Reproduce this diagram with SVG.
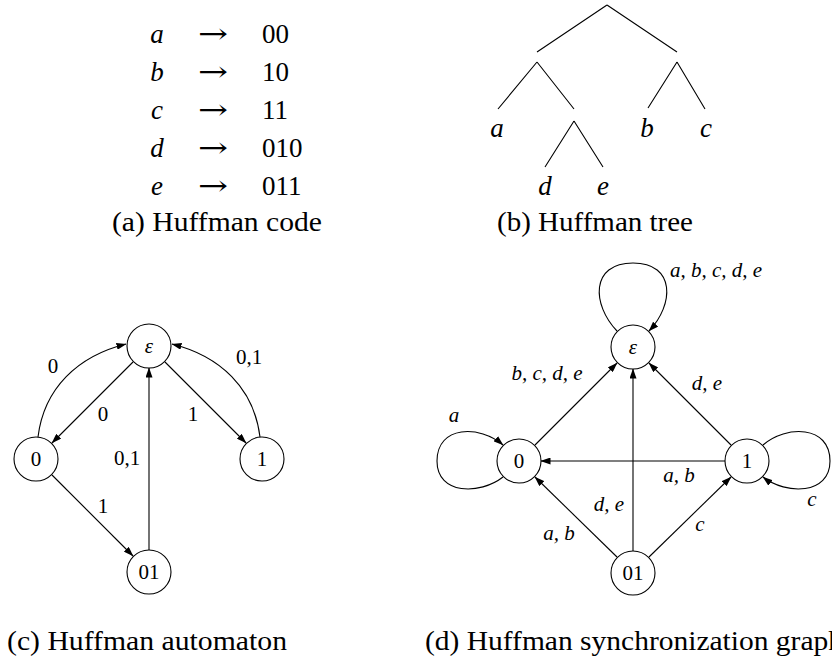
<svg xmlns="http://www.w3.org/2000/svg" width="832" height="659" viewBox="0 0 832 659">
<style>
text{font-family:"Liberation Serif","DejaVu Serif",serif;fill:#000}
.m{font-style:italic}
.tb{font-size:27px}
.cap{font-size:27px}
.lb{font-size:21px}
.nl{font-size:21px;text-anchor:middle}
.ml{font-size:21px;font-style:italic}
.ar{font-size:27px;font-family:"DejaVu Serif","Liberation Serif",serif}
.e{fill:none;stroke:#000;stroke-width:1.1}
.a{marker-end:url(#arr)}
circle{fill:#fff;stroke:#000;stroke-width:1.1}
</style>
<defs>
<marker id="arr" markerUnits="userSpaceOnUse" markerWidth="10" markerHeight="7" refX="9.5" refY="3.5" orient="auto">
<path d="M0,0 L10,3.5 L0,7 z" fill="#000"/>
</marker>
</defs>

<!-- (a) Huffman code -->
<g id="code">
<text class="tb m" x="157" y="43" text-anchor="middle">a</text>
<text class="ar" x="198" y="43" textLength="30" lengthAdjust="spacingAndGlyphs">→</text>
<text class="tb" x="262" y="43">00</text>
<text class="tb m" x="157" y="81" text-anchor="middle">b</text>
<text class="ar" x="198" y="81" textLength="30" lengthAdjust="spacingAndGlyphs">→</text>
<text class="tb" x="262" y="81">10</text>
<text class="tb m" x="157" y="119" text-anchor="middle">c</text>
<text class="ar" x="198" y="119" textLength="30" lengthAdjust="spacingAndGlyphs">→</text>
<text class="tb" x="262" y="119">11</text>
<text class="tb m" x="157" y="157" text-anchor="middle">d</text>
<text class="ar" x="198" y="157" textLength="30" lengthAdjust="spacingAndGlyphs">→</text>
<text class="tb" x="262" y="157">010</text>
<text class="tb m" x="157" y="195" text-anchor="middle">e</text>
<text class="ar" x="198" y="195" textLength="30" lengthAdjust="spacingAndGlyphs">→</text>
<text class="tb" x="262" y="195">011</text>
<text class="cap" x="112" y="231" textLength="210" lengthAdjust="spacingAndGlyphs">(a) Huffman code</text>
</g>

<!-- (b) Huffman tree -->
<g id="tree">
<g class="e">
<path d="M607,5 L537,52 M607,5 L677,52"/>
<path d="M537,62 L498,109 M537,62 L574,109"/>
<path d="M677,62 L648,108 M677,62 L705,109"/>
<path d="M574,121 L545,167 M574,121 L603,167"/>
</g>
<text class="tb m" x="497" y="137" text-anchor="middle">a</text>
<text class="tb m" x="647" y="137" text-anchor="middle">b</text>
<text class="tb m" x="706" y="137" text-anchor="middle">c</text>
<text class="tb m" x="545" y="195" text-anchor="middle">d</text>
<text class="tb m" x="603" y="195" text-anchor="middle">e</text>
<text class="cap" x="497" y="231" textLength="196" lengthAdjust="spacingAndGlyphs">(b) Huffman tree</text>
</g>

<!-- (c) Huffman automaton -->
<g id="automaton-edges">
<path class="e a" d="M38,437 C44,388 78,356 126,344"/>
<path class="e a" d="M260,437 C254,388 220,356 172,344"/>
<path class="e a" d="M133,362 L52,443"/>
<path class="e a" d="M165,362 L246,443"/>
<path class="e a" d="M52,475 L133,556"/>
<path class="e a" d="M149,550 L149,368"/>
<text class="lb" x="53" y="373" text-anchor="middle">0</text>
<text class="lb" x="103" y="421" text-anchor="middle">0</text>
<text class="lb" x="193" y="421" text-anchor="middle">1</text>
<text class="lb" x="249" y="364" text-anchor="middle">0,1</text>
<text class="lb" x="103" y="513" text-anchor="middle">1</text>
<text class="lb" x="127" y="465" text-anchor="middle">0,1</text>
</g>
<g id="c-eps"><circle cx="149" cy="346" r="22"/><text class="nl m" x="149" y="353">ε</text></g>
<g id="c-0"><circle cx="36" cy="459" r="22"/><text class="nl" x="36" y="466">0</text></g>
<g id="c-1"><circle cx="262" cy="459" r="22"/><text class="nl" x="262" y="466">1</text></g>
<g id="c-01"><circle cx="149" cy="572" r="22"/><text class="nl" x="149" y="579">01</text></g>
<text class="cap" x="7" y="650" textLength="280" lengthAdjust="spacingAndGlyphs">(c) Huffman automaton</text>

<!-- (d) Huffman synchronization graph -->
<g id="sync-edges">
<path class="e a" d="M617,331 C592,305 590,263 633,263 C676,263 674,305 649,331"/>
<path class="e a" d="M535,445 L617,363"/>
<path class="e a" d="M731,445 L649,363"/>
<path class="e a" d="M633,551 L633,369"/>
<path class="e a" d="M725,461 L541,461"/>
<path class="e a" d="M617,557 L535,477"/>
<path class="e a" d="M649,557 L731,477"/>
<path class="e a" d="M503,477 C480,495 437,495 437,461 C437,425 480,425 503,445"/>
<path class="e a" d="M763,445 C786,425 830,425 830,461 C830,495 786,495 763,477"/>
<text class="ml" x="716" y="277" text-anchor="middle">a, b, c, d, e</text>
<text class="ml" x="547" y="380" text-anchor="middle">b, c, d, e</text>
<text class="ml" x="707" y="390" text-anchor="middle">d, e</text>
<text class="ml" x="454" y="422" text-anchor="middle">a</text>
<text class="ml" x="679" y="482" text-anchor="middle">a, b</text>
<text class="ml" x="609" y="511" text-anchor="middle">d, e</text>
<text class="ml" x="559" y="540" text-anchor="middle">a, b</text>
<text class="ml" x="700" y="531" text-anchor="middle">c</text>
<text class="ml" x="812" y="506" text-anchor="middle">c</text>
</g>
<g id="d-eps"><circle cx="633" cy="347" r="22"/><text class="nl m" x="633" y="354">ε</text></g>
<g id="d-0"><circle cx="519" cy="461" r="22"/><text class="nl" x="519" y="468">0</text></g>
<g id="d-1"><circle cx="747" cy="461" r="22"/><text class="nl" x="747" y="468">1</text></g>
<g id="d-01"><circle cx="633" cy="573" r="22"/><text class="nl" x="633" y="580">01</text></g>
<text class="cap" x="425" y="650" textLength="418" lengthAdjust="spacingAndGlyphs">(d) Huffman synchronization graph</text>
</svg>
